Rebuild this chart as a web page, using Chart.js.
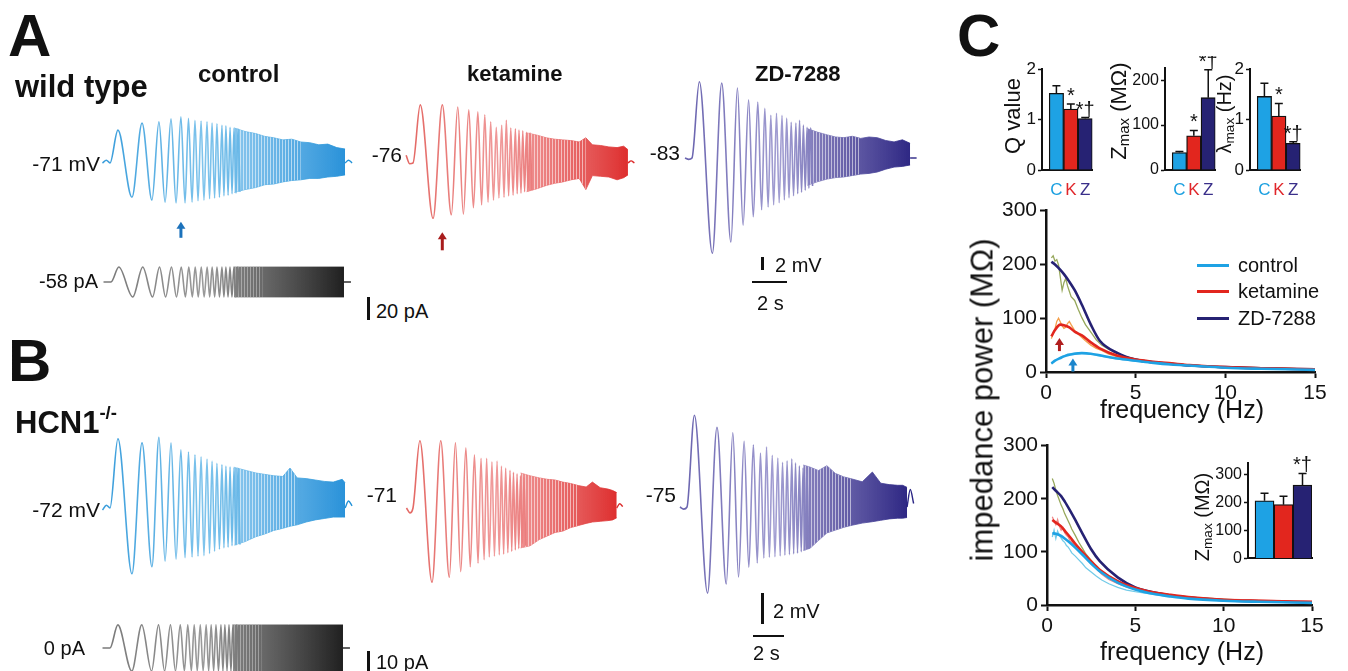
<!DOCTYPE html>
<html>
<head>
<meta charset="utf-8">
<script src="https://cdn.jsdelivr.net/npm/chart.js@4.4.1/dist/chart.umd.min.js"></script>
<style>
  body { margin: 0; background: #fff; }
  #fig { position: relative; width: 1348px; height: 671px; overflow: hidden; background: #fff;
         font-family: "Liberation Sans", Arial, sans-serif; color: #111; }
  #fig canvas { position: absolute; }
  .t { position: absolute; white-space: nowrap; line-height: 1; }
  .rot { position: absolute; white-space: nowrap; line-height: 1; transform: translate(-50%, -50%) rotate(-90deg); }
  .bar { position: absolute; background: #111; }
  sup { font-size: 60%; vertical-align: 0.75em; }
  sub { font-size: 68%; vertical-align: -0.25em; }
</style>
</head>
<body>
<div id="fig"></div>
<script>
// ---- chirp traces (time in s, response in display units) ----
const cycleT = [0, 0.44, 1.22, 1.78, 2.33, 2.72, 3.06, 3.39, 3.67, 3.94, 4.17, 4.36, 4.56, 4.72, 4.89, 5.06,
  5.22, 5.39, 5.53, 5.67, 5.81, 5.94, 6.08, 6.22, 6.33, 6.44, 6.56, 6.67, 6.78, 6.89, 7.0, 7.11, 7.22];
const leadT = [-0.42, -0.2];
const tailT = [13.06, 13.25, 13.45];

const wtCtrlLead = [0, 0.4];
const wtCtrlPeaks = [0, 4.7, -4.9, 5.7, -5.3, 5.9, -5.6, 6.3, -5.7, 6.6, -5.7, 6.4, -5.6, 6.1, -5.4, 6.0, -5.3,
  5.9, -5.1, 5.7, -5.0, 5.6, -4.9, 5.4, -4.7, 5.3, -4.6, 5.1, -4.4, 5.0, -4.3, 4.9, -4.1];
const wtCtrlBandT = [6.9, 7.5, 8.1, 8.6, 9.1, 9.6, 10.1, 10.6, 11.1, 11.6, 12.1, 12.6, 13.06];
const wtCtrlBandHi = [5.0, 4.5, 4.2, 3.8, 3.6, 3.3, 3.4, 3.0, 2.9, 2.6, 2.7, 2.2, 2.0];
const wtCtrlBandLo = [-4.2, -3.8, -3.5, -3.1, -3.0, -2.7, -2.5, -2.4, -2.2, -2.2, -2.0, -1.9, -1.7];
const wtCtrlTail = [0, 0.4, 0];

const wtKetLead = [1.1, -0.1];
const wtKetPeaks = [0, 8.3, -7.9, 8.3, -7.4, 8.0, -7.3, 7.6, -6.4, 7.3, -6.0, 6.9, -5.6, 5.9, -5.3, 5.1, -5.0,
  5.4, -4.9, 6.1, -4.7, 5.0, -4.6, 4.9, -4.4, 4.7, -4.3, 4.6, -4.1, 4.4, -4.0, 4.3, -3.9];
const wtKetBandT = [6.9, 7.5, 8.1, 8.6, 9.1, 9.6, 10.1, 10.5, 10.9, 11.4, 11.9, 12.4, 12.8, 13.06];
const wtKetBandHi = [4.3, 4.0, 3.6, 3.4, 3.3, 3.2, 3.0, 3.6, 2.6, 2.5, 2.3, 2.2, 2.4, 1.9];
const wtKetBandLo = [-4.1, -3.7, -3.2, -2.9, -2.7, -2.4, -2.2, -3.8, -1.8, -1.9, -2.0, -2.4, -2.1, -1.7];
const wtKetTail = [0, 0.3, 0];

const wtZdLead = [0, -0.2];
const wtZdPeaks = [0, 10.9, -13.6, 10.7, -12.0, 10.0, -9.6, 8.3, -8.4, 8.0, -7.4, 7.1, -7.0, 6.1, -6.7, 6.4, -6.4,
  6.1, -6.0, 5.7, -5.7, 5.1, -5.4, 5.0, -5.1, 5.4, -4.9, 4.7, -4.6, 4.4, -4.3, 4.3, -4.0];
const wtZdBandT = [6.9, 7.5, 8.1, 8.6, 9.1, 9.6, 10.1, 10.6, 11.1, 11.6, 12.1, 12.6, 13.06];
const wtZdBandHi = [4.2, 3.7, 3.3, 3.0, 2.9, 3.1, 2.8, 3.0, 2.9, 2.5, 2.3, 2.6, 2.1];
const wtZdBandLo = [-3.9, -3.4, -3.0, -2.8, -2.7, -2.5, -2.3, -2.2, -2.0, -1.6, -1.3, -1.2, -1.0];
const wtZdTail = [0, 0, 0];

const hcnCtrlLead = [-0.3, 0.4];
const hcnCtrlPeaks = [0, 9.9, -9.4, 9.3, -8.4, 10.1, -7.6, 9.3, -7.3, 8.3, -7.1, 8.0, -7.0, 7.6, -6.9, 7.3, -6.8,
  7.0, -6.5, 6.7, -6.2, 6.4, -5.9, 6.2, -5.7, 6.0, -5.6, 5.9, -5.4, 5.8, -5.3, 5.7, -5.2];
const hcnCtrlBandT = [6.9, 7.5, 8.1, 8.6, 9.1, 9.6, 10.0, 10.4, 10.9, 11.4, 11.9, 12.4, 12.9, 13.06];
const hcnCtrlBandHi = [5.8, 5.4, 5.0, 4.8, 4.6, 4.5, 5.7, 4.3, 4.2, 4.0, 3.8, 3.7, 4.1, 3.6];
const hcnCtrlBandLo = [-5.3, -4.8, -4.1, -3.7, -3.2, -2.9, -2.6, -2.4, -2.0, -1.7, -1.5, -1.3, -1.3, -1.3];
const hcnCtrlTail = [0, 1.0, 0.3];

const hcnKetLead = [0, -0.7];
const hcnKetPeaks = [0, 9.6, -10.6, 9.6, -9.9, 9.3, -9.1, 8.6, -8.4, 7.6, -7.9, 7.1, -7.4, 7.1, -7.0, 6.6, -6.9,
  6.7, -6.7, 6.0, -6.6, 5.7, -6.4, 5.4, -6.2, 5.1, -6.0, 4.9, -5.8, 4.6, -5.6, 4.4, -5.4];
const hcnKetBandT = [6.9, 7.5, 8.1, 8.6, 9.1, 9.6, 10.1, 10.6, 11.1, 11.5, 12.0, 12.5, 12.8, 13.06];
const hcnKetBandHi = [5.0, 4.6, 4.3, 4.1, 4.0, 3.7, 3.5, 3.2, 3.0, 3.7, 2.9, 2.7, 2.5, 2.2];
const hcnKetBandLo = [-5.7, -5.4, -4.5, -4.0, -3.5, -3.3, -2.8, -2.5, -2.2, -2.0, -1.9, -1.8, -1.7, -1.4];
const hcnKetTail = [0, 0.6, 0.2];

const hcnZdLead = [0, -0.3];
const hcnZdPeaks = [0, 13.1, -12.3, 11.4, -11.0, 10.6, -10.0, 9.4, -8.6, 8.9, -8.0, 7.7, -7.3, 8.6, -7.2, 7.4, -7.1,
  7.0, -7.0, 6.4, -6.9, 6.6, -6.8, 6.9, -6.7, 6.3, -6.6, 5.9, -6.4, 5.6, -6.2, 5.3, -6.0];
const hcnZdBandT = [6.9, 7.3, 7.8, 8.3, 8.8, 9.3, 9.8, 10.4, 11.0, 11.5, 12.0, 12.5, 12.8, 13.06];
const hcnZdBandHi = [6.0, 5.7, 5.2, 5.9, 4.8, 4.3, 4.0, 3.6, 5.0, 3.4, 3.2, 3.1, 3.1, 2.8];
const hcnZdBandLo = [-6.2, -5.9, -4.8, -3.7, -3.3, -2.9, -2.6, -2.3, -2.1, -1.9, -1.7, -1.6, -1.6, -1.5];
const hcnZdTail = [0, 2.5, 0.5];

// injected current (pA)
const stimLead = [0, 0];
const stimAPeaks = [0, 14, -14, 14, -14, 14, -14, 14, -14, 14, -14, 14, -14, 14, -14, 14, -14,
  14, -14, 14, -14, 14, -14, 14, -14, 14, -14, 14, -14, 14, -14, 14, -14];
const stimBPeaks = [0, 10.5, -10.5, 10.5, -10.5, 10.5, -10.5, 10.5, -10.5, 10.5, -10.5, 10.5, -10.5, 10.5, -10.5, 10.5, -10.5,
  10.5, -10.5, 10.5, -10.5, 10.5, -10.5, 10.5, -10.5, 10.5, -10.5, 10.5, -10.5, 10.5, -10.5, 10.5, -10.5];
const stimBandT = [6.9, 8.5, 10.0, 13.06];
const stimABandHi = [14, 14, 14, 14];
const stimABandLo = [-14, -14, -14, -14];
const stimBBandHi = [10.5, 10.5, 10.5, 10.5];
const stimBBandLo = [-10.5, -10.5, -10.5, -10.5];
const stimTail = [0, 0, 0];

// ---- panel C bars ----
const barCats = ['C', 'K', 'Z'];
const qVals = [1.52, 1.21, 1.02];
const qErr = [0.15, 0.10, 0.02];
const zmaxVals = [39, 76, 161];
const zmaxErr = [2, 12, 62];
const lamVals = [1.46, 1.07, 0.53];
const lamErr = [0.26, 0.25, 0.03];
const sigMarks = ['', '*', '*\u2020'];
const hcnZmaxVals = [207, 193, 263];
const hcnZmaxErr = [27, 30, 42];
const hcnMarks = ['', '', '*\u2020'];

// ---- impedance curves (Hz, MOhm) ----
const impF = [0.3, 0.5, 0.8, 1.0, 1.3, 1.6, 2.0, 2.5, 3, 4, 5, 6, 7, 8, 10, 12, 15];
const wtImpCtrl = [16, 21, 26, 29, 32, 34, 35, 34, 31, 25, 21, 17, 14, 12, 8, 6, 4];
const wtImpKet = [66, 78, 88, 87, 83, 75, 68, 55, 44, 30, 23, 19, 16, 13, 9, 7, 5];
const wtImpZd = [205, 200, 190, 182, 168, 152, 125, 88, 58, 35, 23, 18, 15, 12, 9, 7, 5];
const hcnImpCtrl = [135, 134, 130, 125, 117, 108, 95, 78, 63, 42, 29, 21, 16, 12, 8, 6, 4];
const hcnImpKet = [160, 155, 148, 140, 128, 115, 100, 82, 66, 45, 32, 24, 19, 15, 10, 8, 6];
const hcnImpZd = [222, 215, 205, 195, 178, 160, 135, 105, 82, 52, 33, 24, 18, 14, 9, 7, 5];

const rawF = [0.3, 0.4, 0.5, 0.6, 0.7, 0.8, 0.9, 1.0, 1.1, 1.2, 1.3, 1.4, 1.6, 1.8, 2.0, 2.2, 2.5, 2.8, 3.1, 3.5,
  4.0, 4.5, 5.0, 6.0, 7.0, 8.0, 9.0, 10, 11, 12, 13, 14, 15];
const wtRawCtrl = [15, 18, 21, 23, 25, 27, 29, 30, 31, 33, 33, 34, 35, 36, 35, 35, 33, 31, 29, 27, 24, 22, 20, 17, 14, 12, 10, 8, 7, 6, 5, 5, 4];
const wtRawKet = [62, 71, 80, 94, 100, 93, 86, 81, 83, 90, 94, 88, 77, 70, 64, 58, 50, 44, 40, 33, 28, 25, 22, 19, 16, 13, 11, 10, 9, 8, 7, 6, 6];
const wtRawZd = [212, 216, 206, 209, 199, 176, 152, 166, 174, 160, 150, 140, 133, 116, 101, 88, 74, 60, 50, 42, 34, 28, 24, 19, 15, 13, 11, 9, 8, 7, 7, 6, 5];
const hcnRawCtrl = [128, 141, 125, 139, 131, 126, 121, 118, 112, 109, 104, 98, 92, 85, 78, 70, 62, 54, 47, 40, 33, 28, 25, 20, 16, 13, 11, 9, 8, 7, 6, 5, 5];
const hcnRawKet = [166, 158, 151, 161, 148, 141, 146, 136, 131, 128, 121, 118, 110, 101, 95, 88, 77, 68, 58, 48, 40, 34, 29, 22, 18, 15, 13, 11, 10, 9, 8, 7, 7];
const hcnRawZd = [238, 229, 216, 206, 197, 188, 181, 172, 165, 158, 151, 143, 131, 118, 107, 96, 84, 72, 62, 52, 43, 37, 32, 24, 19, 15, 13, 11, 9, 8, 7, 6, 6];
const peakArrowF = [1.5, 0.75];

const colC = '#1ea2e4', colK = '#e2261e', colZ = '#262273';
const catColors = ['#1a9fe0', '#e0262a', '#3a2f8a'];

const fig = document.getElementById('fig');

Chart.defaults.animation = false;
Chart.defaults.responsive = false;
Chart.defaults.devicePixelRatio = 1;
Chart.defaults.font.family = "'Liberation Sans', Arial, sans-serif";
Chart.defaults.color = '#111';
Chart.defaults.plugins.legend.display = false;
Chart.defaults.plugins.tooltip.enabled = false;
Chart.defaults.elements.point.radius = 0;

Chart.register({
  id: 'arrows',
  afterDatasetsDraw(chart, args, opts) {
    if (!opts.items || !opts.items.length) return;
    const ctx = chart.ctx;
    opts.items.forEach(a => {
      const x = chart.scales.x.getPixelForValue(a.x);
      const y = chart.scales.y.getPixelForValue(a.y);
      ctx.save();
      ctx.fillStyle = a.color;
      ctx.strokeStyle = a.color;
      ctx.lineWidth = 3;
      ctx.beginPath();
      ctx.moveTo(x, y + 6);
      ctx.lineTo(x, y + a.len);
      ctx.stroke();
      ctx.beginPath();
      ctx.moveTo(x, y);
      ctx.lineTo(x - 4.5, y + 7);
      ctx.lineTo(x + 4.5, y + 7);
      ctx.closePath();
      ctx.fill();
      ctx.restore();
    });
  }
});

Chart.register({
  id: 'errbars',
  afterDatasetsDraw(chart, args, opts) {
    if (!opts.errs) return;
    const meta = chart.getDatasetMeta(0);
    const ys = chart.scales.y;
    const vals = chart.data.datasets[0].data;
    const ctx = chart.ctx;
    ctx.save();
    ctx.strokeStyle = '#111';
    ctx.lineWidth = 1.5;
    meta.data.forEach((bar, i) => {
      const top = ys.getPixelForValue(vals[i].y + opts.errs[i]);
      ctx.beginPath();
      ctx.moveTo(bar.x, bar.y);
      ctx.lineTo(bar.x, top);
      ctx.moveTo(bar.x - opts.cap, top);
      ctx.lineTo(bar.x + opts.cap, top);
      ctx.stroke();
      if (opts.marks && opts.marks[i]) {
        ctx.fillStyle = '#111';
        ctx.font = opts.markFont;
        ctx.textAlign = 'center';
        ctx.textBaseline = 'alphabetic';
        ctx.fillText(opts.marks[i], bar.x, top - 2);
      }
    });
    ctx.restore();
  }
});

function makeCanvas(left, top, w, h) {
  const c = document.createElement('canvas');
  c.width = w;
  c.height = h;
  c.style.left = left + 'px';
  c.style.top = top + 'px';
  c.style.width = w + 'px';
  c.style.height = h + 'px';
  fig.appendChild(c);
  return c.getContext('2d');
}

function addText(html, x, base, size, opts = {}) {
  const d = document.createElement('div');
  d.className = 't';
  d.innerHTML = html;
  d.style.fontSize = size + 'px';
  d.style.left = x + 'px';
  d.style.top = (base - 0.8465 * size) + 'px';
  if (opts.bold) d.style.fontWeight = 'bold';
  if (opts.color) d.style.color = opts.color;
  if (opts.align === 'right') d.style.transform = 'translateX(-100%)';
  if (opts.align === 'center') d.style.transform = 'translateX(-50%)';
  fig.appendChild(d);
}

function addRotated(html, cx, cy, size) {
  const d = document.createElement('div');
  d.className = 'rot';
  d.innerHTML = html;
  d.style.fontSize = size + 'px';
  d.style.left = cx + 'px';
  d.style.top = cy + 'px';
  fig.appendChild(d);
}

function addBar(x, y, w, h, color) {
  const d = document.createElement('div');
  d.className = 'bar';
  d.style.left = x + 'px';
  d.style.top = y + 'px';
  d.style.width = w + 'px';
  d.style.height = h + 'px';
  if (color) d.style.background = color;
  fig.appendChild(d);
}

function xGradient(chart, stops, tEnd) {
  const sx = chart.scales.x;
  if (!chart.chartArea || !sx) return stops[0][1];
  const a = sx.getPixelForValue(0), b = sx.getPixelForValue(tEnd);
  if (!isFinite(a) || !isFinite(b)) return stops[0][1];
  const g = chart.ctx.createLinearGradient(a, 0, b, 0);
  stops.forEach(([o, c]) => g.addColorStop(o, c));
  return g;
}

// thin light gaps between the dense sweep cycles
function stripes(alpha) {
  const c = document.createElement('canvas');
  c.width = 3;
  c.height = 4;
  const g = c.getContext('2d');
  g.fillStyle = 'rgba(255,255,255,' + alpha + ')';
  g.fillRect(0, 0, 1, 4);
  return g.createPattern(c, 'repeat');
}

function pairs(xs, ys) {
  return xs.map((x, i) => ({ x, y: ys[i] }));
}

function traceChart(s) {
  const padL = 14;
  const w = Math.round(13.7 * s.sx) + padL + 6;
  const h = 224;
  const ctx = makeCanvas(s.x0 - padL, s.y0 - h / 2, w, h);
  const tEnd = tailT[0];
  const main = pairs(leadT, s.lead).concat(pairs(cycleT, s.peaks));
  const hi = pairs(s.bandT, s.hi), lo = pairs(s.bandT, s.lo);
  const early = p => p.x <= s.stripeTo;
  return new Chart(ctx, {
    type: 'line',
    data: {
      datasets: [
        { data: main, borderColor: c => xGradient(c.chart, s.line, tEnd), borderWidth: 1.6, cubicInterpolationMode: 'monotone' },
        { data: hi.filter(early), borderWidth: 0, tension: 0 },
        { data: lo.filter(early), borderWidth: 0, tension: 0, fill: '-1', backgroundColor: stripes(s.stripeAlpha) },
        { data: hi, borderColor: c => xGradient(c.chart, s.line, tEnd), borderWidth: 0.8, tension: 0 },
        { data: lo, borderColor: c => xGradient(c.chart, s.line, tEnd), borderWidth: 0.8, tension: 0,
          fill: '-1', backgroundColor: c => xGradient(c.chart, s.fill, tEnd) },
        { data: pairs(tailT, s.tail), borderColor: s.line[s.line.length - 1][1], borderWidth: 1.4, cubicInterpolationMode: 'monotone' }
      ]
    },
    options: {
      layout: { padding: 0 },
      scales: {
        x: { type: 'linear', display: false, min: -padL / s.sx, max: (w - padL) / s.sx },
        y: { display: false, min: -h / 2 / s.sy, max: h / 2 / s.sy }
      },
      plugins: { arrows: { items: s.arrow ? [s.arrow] : [] } }
    }
  });
}

const blueLine = [[0, '#3d9fdc'], [0.4, '#7fc4ec'], [1, '#2392d8']];
const blueFill = [[0, 'rgba(130,200,240,0.5)'], [0.55, 'rgba(90,175,230,0.75)'], [1, 'rgba(30,140,215,0.95)']];
const redLine = [[0, '#e46a66'], [0.4, '#f09a9a'], [1, '#dc2a2a']];
const redFill = [[0, 'rgba(242,160,160,0.5)'], [0.55, 'rgba(232,100,100,0.75)'], [1, 'rgba(220,35,35,0.95)']];
const navyLine = [[0, '#6c66b0'], [0.4, '#a29ed2'], [1, '#2a2585']];
const navyFill = [[0, 'rgba(160,155,210,0.5)'], [0.55, 'rgba(100,92,170,0.8)'], [1, 'rgba(35,28,125,0.95)']];
const greyLine = [[0, '#7a7a7a'], [0.4, '#9a9a9a'], [1, '#202020']];
const greyFill = [[0, 'rgba(170,170,170,0.6)'], [0.6, 'rgba(90,90,90,0.85)'], [1, 'rgba(20,20,20,0.95)']];

// panel A
traceChart({ x0: 110, y0: 163, sx: 18, sy: 7, lead: wtCtrlLead, peaks: wtCtrlPeaks, bandT: wtCtrlBandT,
  hi: wtCtrlBandHi, lo: wtCtrlBandLo, tail: wtCtrlTail, line: blueLine, fill: blueFill, stripeTo: 10.6, stripeAlpha: 0.55,
  arrow: { x: cycleT[9], y: -8.4, len: 16, color: '#1c72bb' } });
traceChart({ x0: 413, y0: 163, sx: 16.46, sy: 7, lead: wtKetLead, peaks: wtKetPeaks, bandT: wtKetBandT,
  hi: wtKetBandHi, lo: wtKetBandLo, tail: wtKetTail, line: redLine, fill: redFill, stripeTo: 10.5, stripeAlpha: 0.55,
  arrow: { x: cycleT[3], y: -9.9, len: 18, color: '#a81c1c' } });
traceChart({ x0: 692, y0: 158, sx: 16.7, sy: 7, lead: wtZdLead, peaks: wtZdPeaks, bandT: wtZdBandT,
  hi: wtZdBandHi, lo: wtZdBandLo, tail: wtZdTail, line: navyLine, fill: navyFill, stripeTo: 10.1, stripeAlpha: 0.55 });
traceChart({ x0: 111, y0: 282, sx: 17.84, sy: 1.07, lead: stimLead, peaks: stimAPeaks, bandT: stimBandT,
  hi: stimABandHi, lo: stimABandLo, tail: stimTail, line: greyLine, fill: greyFill, stripeTo: 8.5, stripeAlpha: 0.35 });

// panel B
traceChart({ x0: 110, y0: 508, sx: 18, sy: 7, lead: hcnCtrlLead, peaks: hcnCtrlPeaks, bandT: hcnCtrlBandT,
  hi: hcnCtrlBandHi, lo: hcnCtrlBandLo, tail: hcnCtrlTail, line: blueLine, fill: blueFill, stripeTo: 10.4, stripeAlpha: 0.55 });
traceChart({ x0: 413, y0: 508, sx: 15.6, sy: 7, lead: hcnKetLead, peaks: hcnKetPeaks, bandT: hcnKetBandT,
  hi: hcnKetBandHi, lo: hcnKetBandLo, tail: hcnKetTail, line: redLine, fill: redFill, stripeTo: 10.6, stripeAlpha: 0.55 });
traceChart({ x0: 687, y0: 507, sx: 16.85, sy: 7, lead: hcnZdLead, peaks: hcnZdPeaks, bandT: hcnZdBandT,
  hi: hcnZdBandHi, lo: hcnZdBandLo, tail: hcnZdTail, line: navyLine, fill: navyFill, stripeTo: 9.8, stripeAlpha: 0.55 });
traceChart({ x0: 110, y0: 648, sx: 17.84, sy: 2.2, lead: stimLead, peaks: stimBPeaks, bandT: stimBandT,
  hi: stimBBandHi, lo: stimBBandLo, tail: stimTail, line: greyLine, fill: greyFill, stripeTo: 8.5, stripeAlpha: 0.35 });

// ---- bar charts ----
function barChart(b) {
  const w = b.yW + b.plotW + 4;
  const h = 6 + b.plotH + b.xH;
  const ctx = makeCanvas(b.axisX - b.yW, b.topY - 6, w, h);
  return new Chart(ctx, {
    type: 'bar',
    data: {
      datasets: [{
        data: b.vals.map((v, i) => ({ x: i + 1, y: v })),
        backgroundColor: [colC, colK, colZ],
        borderColor: '#111',
        borderWidth: 1.3,
        barPercentage: 1,
        categoryPercentage: 1
      }]
    },
    options: {
      layout: { padding: { top: 6, right: 4, left: 0, bottom: 0 } },
      scales: {
        x: {
          type: 'linear', offset: false, min: b.xMin, max: 3.5,
          afterFit: s => { s.height = b.xH; },
          grid: { display: false, drawTicks: false },
          border: { display: true, color: '#111', width: 2 },
          ticks: {
            display: b.cats, stepSize: 1, includeBounds: false, autoSkip: false, maxRotation: 0, padding: 10,
            font: { size: 17 },
            color: c => catColors[c.tick.value - 1] || '#111',
            callback: v => barCats[v - 1] || ''
          }
        },
        y: {
          min: 0, max: b.yMax,
          afterFit: s => { s.width = b.yW; },
          grid: { drawOnChartArea: false, drawTicks: true, tickLength: 4, tickWidth: 1.5, tickColor: '#111' },
          border: { color: '#111', width: 2 },
          ticks: { stepSize: b.step, includeBounds: false, padding: 2, font: { size: b.tickSize } }
        }
      },
      plugins: { errbars: { errs: b.errs, marks: b.marks, cap: 4, markFont: '20px "Liberation Sans", Arial, sans-serif' } }
    }
  });
}

barChart({ axisX: 1042, topY: 63, yW: 22, plotW: 55, plotH: 107, xH: 32, xMin: 0, yMax: 2, step: 1, tickSize: 17,
  vals: qVals, errs: qErr, marks: sigMarks, cats: true });
barChart({ axisX: 1165, topY: 62, yW: 40, plotW: 55, plotH: 108, xH: 32, xMin: 0, yMax: 228, step: 100, tickSize: 16,
  vals: zmaxVals, errs: zmaxErr, marks: sigMarks, cats: true });
barChart({ axisX: 1250, topY: 63, yW: 22, plotW: 55, plotH: 107, xH: 32, xMin: 0, yMax: 2, step: 1, tickSize: 17,
  vals: lamVals, errs: lamErr, marks: sigMarks, cats: true });
barChart({ axisX: 1248, topY: 457, yW: 40, plotW: 64, plotH: 110, xH: 3, xMin: 0.13, yMax: 344, step: 100, tickSize: 16,
  vals: hcnZmaxVals, errs: hcnZmaxErr, marks: hcnMarks, cats: false });

// ---- impedance plots ----
function impChart(b) {
  const w = b.yW + b.plotW + 20;
  const h = 10 + b.plotH + 40;
  const ctx = makeCanvas(b.axisX - b.yW, b.topY - 10, w, h);
  const thin = (ys, color) => ({ data: pairs(rawF, ys), borderColor: color, borderWidth: 1.3, tension: 0 });
  const thick = (ys, color) => ({ data: pairs(impF, ys), borderColor: color, borderWidth: 2.6, cubicInterpolationMode: 'monotone' });
  return new Chart(ctx, {
    type: 'line',
    data: {
      datasets: [
        thick(b.ctrl, colC), thick(b.ket, colK), thick(b.zd, colZ),
        thin(b.rawCtrl, '#74cbe8'), thin(b.rawKet, b.ketRawColor), thin(b.rawZd, '#97a85c')
      ]
    },
    options: {
      layout: { padding: { top: 10, right: 20, left: 0, bottom: 0 } },
      scales: {
        x: {
          type: 'linear', min: 0, max: 15,
          afterFit: s => { s.height = 40; },
          grid: { drawOnChartArea: false, drawTicks: true, tickLength: 6, tickWidth: 2, tickColor: '#111' },
          border: { color: '#111', width: 2.5 },
          ticks: { stepSize: 5, padding: 3, maxRotation: 0, font: { size: 21 } }
        },
        y: {
          min: 0, max: 300,
          afterFit: s => { s.width = b.yW; },
          grid: { drawOnChartArea: false, drawTicks: true, tickLength: 6, tickWidth: 2, tickColor: '#111' },
          border: { color: '#111', width: 2.5 },
          ticks: { stepSize: 100, padding: 3, font: { size: 21 } }
        }
      },
      plugins: { arrows: { items: b.arrows || [] } }
    }
  });
}

impChart({ axisX: 1046, topY: 205, yW: 56, plotW: 269, plotH: 167,
  ctrl: wtImpCtrl, ket: wtImpKet, zd: wtImpZd, rawCtrl: wtRawCtrl, rawKet: wtRawKet, rawZd: wtRawZd,
  ketRawColor: '#f4a04c',
  arrows: [{ x: peakArrowF[0], y: 25, len: 13, color: '#1c86cc' }, { x: peakArrowF[1], y: 63, len: 13, color: '#b01e1e' }] });
impChart({ axisX: 1047, topY: 440, yW: 57, plotW: 265, plotH: 165,
  ctrl: hcnImpCtrl, ket: hcnImpKet, zd: hcnImpZd, rawCtrl: hcnRawCtrl, rawKet: hcnRawKet, rawZd: hcnRawZd,
  ketRawColor: '#f08a8a' });

// ---- text and scale bars ----
addText('A', 8, 57, 60, { bold: true });
addText('wild type', 15, 97, 31, { bold: true });
addText('control', 198, 82, 24, { bold: true });
addText('ketamine', 467, 82, 22, { bold: true });
addText('ZD-7288', 755, 82, 22, { bold: true });
addText('-71 mV', 100, 171, 21, { align: 'right' });
addText('-76', 402, 162, 21, { align: 'right' });
addText('-83', 680, 160, 21, { align: 'right' });
addText('-58 pA', 98, 288, 20, { align: 'right' });
addBar(367, 297, 2.5, 23);
addText('20 pA', 376, 318, 20);
addBar(761, 257, 3, 13);
addText('2 mV', 775, 272, 20);
addBar(752, 281, 35, 2);
addText('2 s', 757, 310, 20);

addText('B', 8, 382, 60, { bold: true });
addText('HCN1<sup>-/-</sup>', 15, 430, 31, { bold: true });
addText('-72 mV', 100, 517, 21, { align: 'right' });
addText('-71', 397, 502, 21, { align: 'right' });
addText('-75', 676, 502, 21, { align: 'right' });
addText('0 pA', 85, 655, 20, { align: 'right' });
addBar(367, 651, 2.5, 22);
addText('10 pA', 376, 669, 20);
addBar(761, 593, 3, 31);
addText('2 mV', 773, 618, 20);
addBar(753, 635, 31, 2);
addText('2 s', 753, 660, 20);

addText('C', 957, 57, 60, { bold: true });
addRotated('Q value', 1013, 116, 22);
addRotated('Z<sub>max</sub> (M\u03a9)', 1120, 111, 22);
addRotated('\u03bb<sub>max</sub> (Hz)', 1225, 114, 20);
addRotated('impedance power (M\u03a9)', 982, 400, 31);
addText('frequency (Hz)', 1182, 418, 25, { align: 'center' });
addText('frequency (Hz)', 1182, 660, 25, { align: 'center' });
addRotated('Z<sub>max</sub> (M\u03a9)', 1203, 517, 20);

[['control', colC, 265], ['ketamine', colK, 291], ['ZD-7288', colZ, 318]].forEach(([name, color, y]) => {
  addBar(1197, y - 1.5, 32, 3, color);
  addText(name, 1238, y + 7, 20);
});
</script>
</body>
</html>
